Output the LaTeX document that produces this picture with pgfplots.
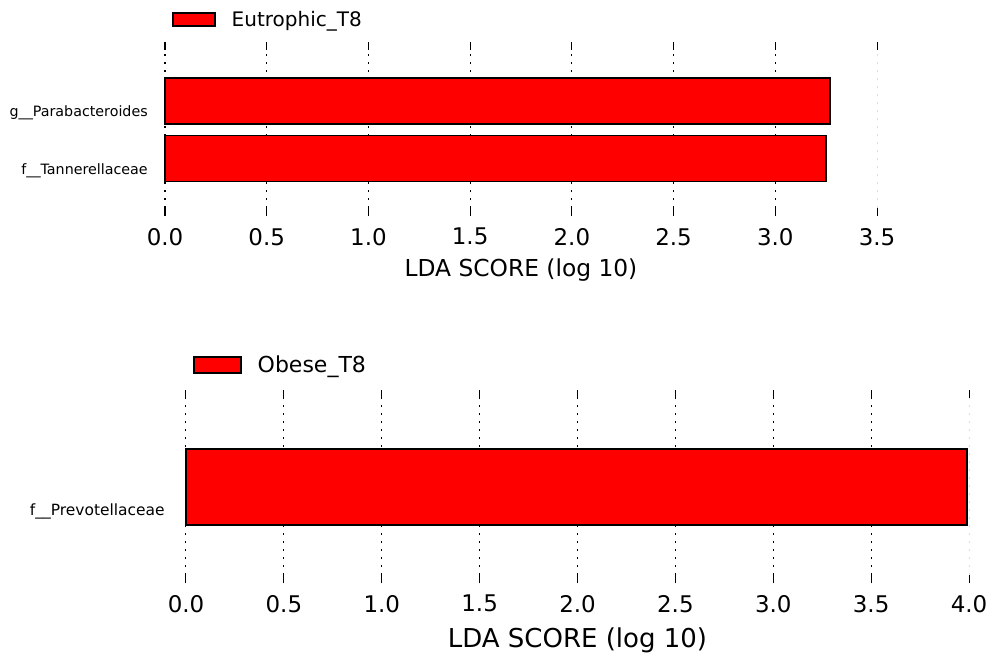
\documentclass[border=0pt]{standalone}
\usepackage{pgfplots}
\pgfplotsset{compat=1.18}
\usepackage{fontspec}
\setmainfont{DejaVu Sans}

\pgfplotsset{
  lefse/.style={
    scale only axis,
    anchor=south west,
    xbar,
    bar width=0.8,
    axis line style={draw=none},
    tick align=inside,
    xtick pos=both,
    major tick length=6pt,
    tick style={black, line width=0.75pt},
    ytick style={draw=none},
    xmajorgrids,
    major grid style={black, line width=0.75pt, dash pattern=on 1.3pt off 4.7pt},
    extra x tick style={major grid style={black!12, line width=0.6pt, dash pattern=on 1.3pt off 4.7pt}},
    xticklabel style={font=\fontsize{17.2}{17.2}\selectfont, inner sep=0pt, anchor=north, yshift=-9pt},
    xlabel style={at={(axis description cs:0.5,0)}, anchor=center},
    clip=false,
    legend cell align=left,
    /pgf/number format/fixed,
    /pgf/number format/fixed zerofill,
    /pgf/number format/precision=1,
    /pgf/number format/assume math mode=true,
  },
  lefselegend/.style={
    legend style={draw=none, fill=none, inner sep=0pt, anchor=west,
      nodes={inner sep=0pt},
      /tikz/every odd column/.append style={column sep=12pt}},
  },
}

\begin{document}
\begin{tikzpicture}[x=1pt,y=1pt]
\path (0,0) rectangle (750,492.75);

% Upper panel: Eutrophic_T8
\begin{axis}[lefse, lefselegend,
  at={(123.75pt,330.75pt)},
  width=534pt, height=130.5pt,
  xmin=0, xmax=3.5, ymin=-1, ymax=2.03,
  xtick={0,0.5,1.0,1.5,2.0,2.5,3.0},
  extra x ticks={3.5},
  ytick={-0.21,0.79},
  yticklabels={f\_\_Tannerellaceae, g\_\_Parabacteroides},
  yticklabel style={font=\fontsize{10.7}{10.7}\selectfont, inner sep=0pt, anchor=east, xshift=-12.75pt},
  xlabel={LDA SCORE (log 10)},
  xlabel style={font=\fontsize{17.5}{17.5}\selectfont, yshift=-40.5pt},
  legend style={at={(axis description cs:0.0098,1.129)},
    font=\fontsize{15}{15}\selectfont},
  legend image code/.code={\draw[fill=red, draw=black, line width=1.1pt] (0pt,-4.9pt) rectangle (31.5pt,4.9pt);},
]
\addplot[fill=red, draw=black, line width=1.1pt] coordinates {(3.25,0) (3.27,1)};
\addlegendentry{Eutrophic\_T8}
\end{axis}

% Lower panel: Obese_T8
\begin{axis}[lefse, lefselegend,
  at={(139.5pt,55.5pt)},
  width=587.25pt, height=144.75pt,
  xmin=0, xmax=4.0, ymin=-1.01, ymax=1.02,
  xtick={0,0.5,1.0,1.5,2.0,2.5,3.0,3.5},
  extra x ticks={4.0},
  ytick={-0.26},
  yticklabels={f\_\_Prevotellaceae},
  yticklabel style={font=\fontsize{11.6}{11.6}\selectfont, inner sep=0pt, anchor=east, xshift=-15.75pt},
  xlabel={LDA SCORE (log 10)},
  xlabel style={font=\fontsize{19.5}{19.5}\selectfont, yshift=-42.75pt},
  legend style={at={(axis description cs:0.0089,1.13)},
    font=\fontsize{16.5}{16.5}\selectfont},
  legend image code/.code={\draw[fill=red, draw=black, line width=1.1pt] (0pt,-6pt) rectangle (35.25pt,6pt);},
]
\addplot[fill=red, draw=black, line width=1.1pt] coordinates {(3.99,0)};
\addlegendentry{Obese\_T8}
\end{axis}
\end{tikzpicture}
\end{document}
